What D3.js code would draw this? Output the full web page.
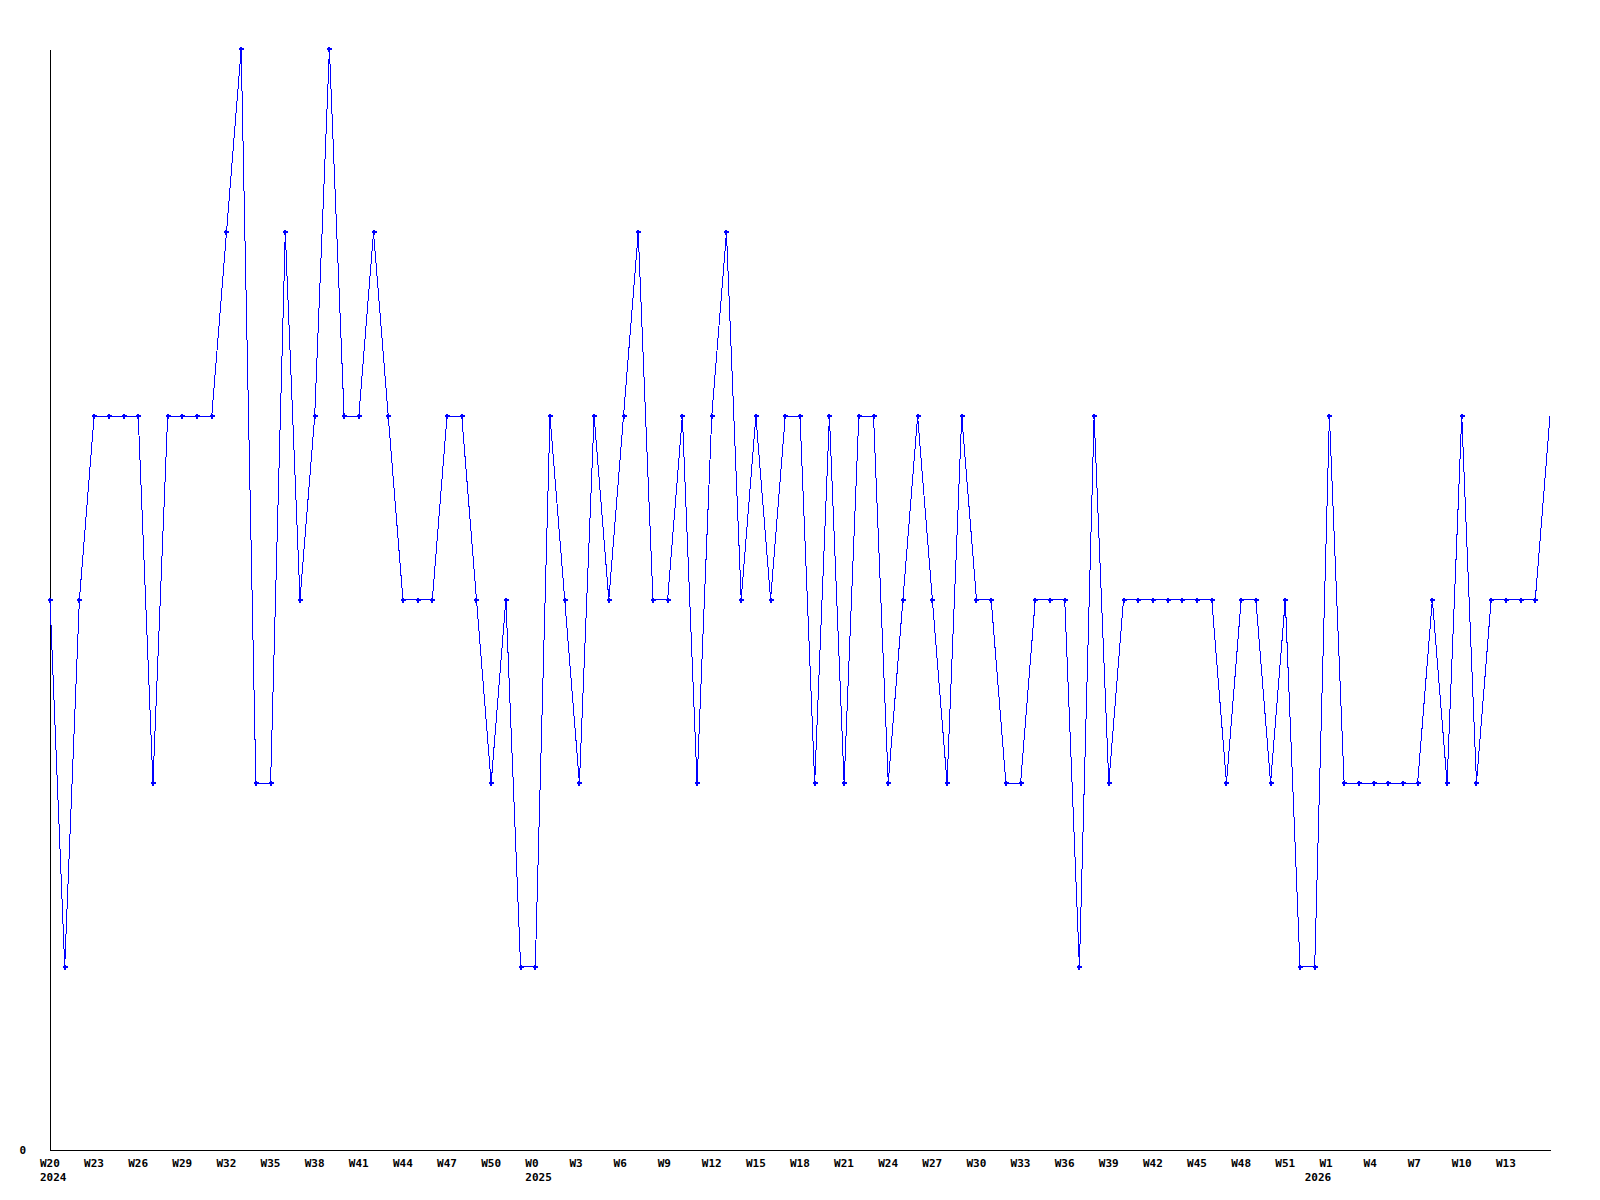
<!DOCTYPE html>
<html>
<head>
<meta charset="utf-8">
<script src="https://cdn.jsdelivr.net/npm/d3@7"></script>
<style>
  html, body { margin: 0; padding: 0; background: #ffffff; }
  svg { display: block; }
  text { font-family: "DejaVu Sans Mono", "Liberation Mono", monospace; font-weight: bold; font-size: 11px; fill: #000; }
</style>
</head>
<body>
<svg id="chart" width="1600" height="1200"></svg>
<script>
// Weekly values, one per week starting 2024 W20
const values = [
  3, 1, 3, 4, 4, 4, 4, 2, 4, 4,
  4, 4, 5, 6, 2, 2, 5, 3, 4, 6,
  4, 4, 5, 4, 3, 3, 3, 4, 4, 3,
  2, 3, 1, 1, 4, 3, 2, 4, 3, 4,
  5, 3, 3, 4, 2, 4, 5, 3, 4, 3,
  4, 4, 2, 4, 2, 4, 4, 2, 3, 4,
  3, 2, 4, 3, 3, 2, 2, 3, 3, 3,
  1, 4, 2, 3, 3, 3, 3, 3, 3, 3,
  2, 3, 3, 2, 3, 1, 1, 4, 2, 2,
  2, 2, 2, 2, 3, 2, 4, 2, 3, 3,
  3, 3, 4
];
const weekIndex = values.map((_, i) => i);

// x tick positions (week index) and labels
const tickIndex = [0, 3, 6, 9, 12, 15, 18, 21, 24, 27, 30,
                   33, 36, 39, 42, 45, 48, 51, 54, 57, 60, 63, 66, 69, 72, 75, 78, 81, 84,
                   87, 90, 93, 96, 99];
const tickLabels = ["W20", "W23", "W26", "W29", "W32", "W35", "W38", "W41", "W44", "W47", "W50",
                    "W0", "W3", "W6", "W9", "W12", "W15", "W18", "W21", "W24", "W27", "W30", "W33", "W36", "W39", "W42", "W45", "W48", "W51",
                    "W1", "W4", "W7", "W10", "W13"];
const yearIndex = [0, 33, 86];
const yearLabels = ["2024", "2025", "2026"];
const yTicks = [0];
const yMax = 6;

const svg = d3.select("#chart");
const plotLeft = 50, plotRight = 1550, plotTop = 49, plotBottom = 1150;

const x = d3.scaleLinear().domain([0, values.length - 1]).range([plotLeft, plotRight]);
const y = d3.scaleLinear().domain([0, yMax]).range([plotBottom, plotTop]);

function styleText(sel) {
  sel.style("font-family", "'DejaVu Sans Mono', monospace")
     .style("font-weight", "bold")
     .style("font-size", "11px")
     .attr("fill", "#000");
}

// x axis
const xAxis = d3.axisBottom(x)
  .tickValues(tickIndex)
  .tickFormat((d, i) => tickLabels[i])
  .tickSize(0)
  .tickSizeOuter(0);
const gx = svg.append("g").attr("transform", `translate(0,${plotBottom})`).call(xAxis);
gx.select(".domain").attr("stroke", "#000").attr("stroke-width", 1).attr("shape-rendering", "crispEdges");
gx.selectAll("text")
  .attr("text-anchor", "start")
  .attr("x", -10.5)
  .attr("y", 17)
  .attr("dy", 0)
  .call(styleText);

// year labels
const yearAxis = d3.axisBottom(x)
  .tickValues(yearIndex)
  .tickFormat((d, i) => yearLabels[i])
  .tickSize(0)
  .tickSizeOuter(0);
const gYear = svg.append("g").attr("transform", `translate(0,${plotBottom})`).call(yearAxis);
gYear.select(".domain").remove();
gYear.selectAll("text")
  .attr("text-anchor", "start")
  .attr("x", -10.5)
  .attr("y", 31)
  .attr("dy", 0)
  .call(styleText);

// y axis
const yAxis = d3.axisLeft(y)
  .tickValues(yTicks)
  .tickFormat(d3.format("d"))
  .tickSize(0)
  .tickSizeOuter(0);
const gyA = svg.append("g").attr("transform", `translate(${plotLeft},0)`).call(yAxis);
gyA.select(".domain").attr("stroke", "#000").attr("stroke-width", 1).attr("shape-rendering", "crispEdges");
gyA.selectAll("text")
  .attr("text-anchor", "end")
  .attr("x", -24)
  .attr("dy", "0.35em")
  .call(styleText);

// line
const line = d3.line()
  .x(i => x(i))
  .y(i => y(values[i]));

svg.append("path")
  .datum(weekIndex)
  .attr("d", line)
  .attr("fill", "none")
  .attr("stroke", "#0000ff")
  .attr("stroke-width", 1)
  .attr("shape-rendering", "crispEdges");

// markers (last point has none)
const plus = "M-2.5,0H2.5M0,-2.5V2.5";
svg.append("g")
  .selectAll("path")
  .data(weekIndex.slice(0, values.length - 1))
  .join("path")
  .attr("transform", i => `translate(${Math.round(x(i))},${Math.round(y(values[i]))})`)
  .attr("d", plus)
  .attr("fill", "none")
  .attr("stroke", "#0000ff")
  .attr("stroke-width", 2)
  .attr("shape-rendering", "crispEdges");
</script>
</body>
</html>
